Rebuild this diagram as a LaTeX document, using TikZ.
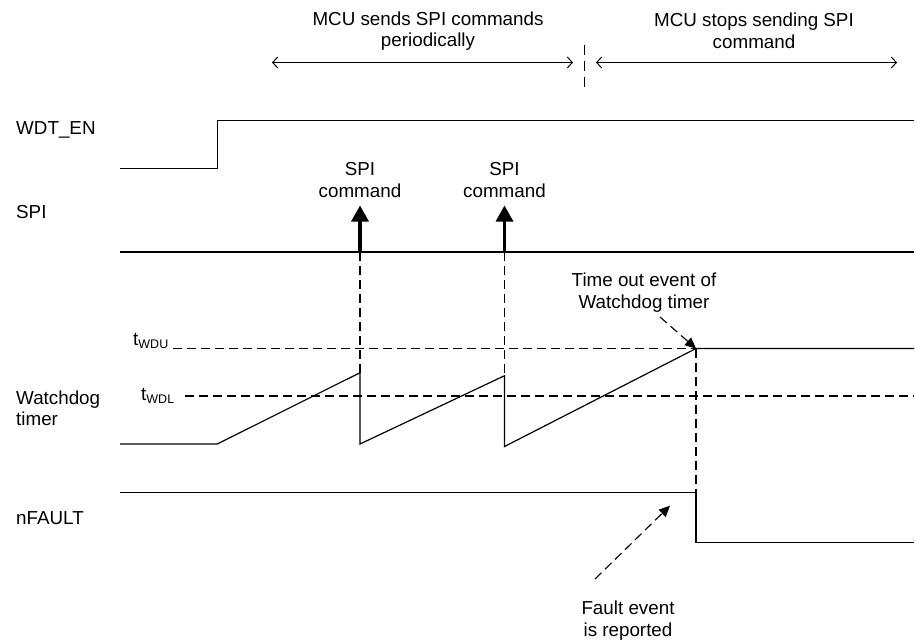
\documentclass[tikz,border=0pt]{standalone}
\usepackage{fontspec}
\setmainfont{Liberation Sans}
\usetikzlibrary{arrows.meta}
\begin{document}
\begin{tikzpicture}[x=1pt,y=-1pt,
  sig/.style={line width=1.2pt,line join=miter},
  guide/.style={line width=1.3pt,dash pattern=on 9pt off 5pt},
  span/.style={line width=1pt,{Straight Barb[length=5pt,width=11pt]}-{Straight Barb[length=5pt,width=11pt]}},
  spiarrow/.style={line width=3.2pt,-{Triangle[length=16pt,width=17pt]}},
  callout/.style={line width=1.1pt,dash pattern=on 9pt off 5pt,-{Triangle[length=11pt,width=10pt]}},
  lbl/.style={font=\fontsize{18.8}{21.5}\selectfont,inner sep=0pt},
  sublbl/.style={lbl,anchor=base west}]
\useasboundingbox (0,0) rectangle (915,640);
% ---------- key coordinates ----------
\coordinate (x1top) at (360,252);
\coordinate (x2top) at (504.5,252);
\coordinate (pk1) at (360,372.7);
\coordinate (pk2) at (504.5,375.7);
\coordinate (to) at (696,348.5);
\coordinate (nf) at (696,492.3);
% ---------- signal labels ----------
\node[lbl,anchor=base west] (lwdt) at (16,134.5) {WDT\_EN};
\node[lbl,anchor=base west] (lspi) at (16,218.5) {SPI};
\node[lbl,anchor=west,align=left] (lwd) at (16,408.5) {Watchdog\\timer};
\node[lbl,anchor=base west] (lnf) at (16,524.5) {nFAULT};
\node[sublbl] (twdu) at (133,345) {t\raisebox{-3.5pt}{\fontsize{12.5}{12.5}\selectfont WDU}};
\node[sublbl] (twdl) at (141,400) {t\raisebox{-3.5pt}{\fontsize{12.5}{12.5}\selectfont WDL}};
% ---------- top annotations ----------
\node[lbl,align=center] (phase1) at (428,31) {MCU sends SPI commands\\periodically};
\node[lbl,align=center] (phase2) at (754,31) {MCU stops sending SPI\\command};
\coordinate (a1l) at (272,62.5);
\coordinate (a1r) at (573,62.5);
\coordinate (a2l) at (596,62.5);
\coordinate (a2r) at (897,62.5);
\coordinate (sepT) at (584,45);
\coordinate (sepB) at (584,88);
\draw[span] (a1l) -- (a1r);
\draw[span] (a2l) -- (a2r);
\draw[line width=1pt,dash pattern=on 10pt off 6pt] (sepT) -- (sepB);
% ---------- WDT_EN ----------
\draw[sig] (120,168.5) -- (217.3,168.5) -- (217.3,120.5) -- (914,120.5);
% ---------- SPI ----------
\draw[sig] (120,252) -- (914,252);
\node[lbl,align=center] (cmd1) at (360,180) {SPI\\command};
\node[lbl,align=center] (cmd2) at (504.5,180) {SPI\\command};
\draw[spiarrow] (x1top) -- (360,205.5);
\draw[spiarrow] (x2top) -- (504.5,205.5);
% ---------- thresholds ----------
\draw[guide] (173,348.5) -- (to);
\draw[guide] (185,396) -- (914,396);
% ---------- Watchdog timer ----------
\draw[sig] (120,444) -- (217.3,444) -- (pk1) -- (360,444) -- (pk2) -- (504.5,446.5) -- (to) -- (914,348.5);
\draw[guide] (x1top) -- (pk1);
\draw[guide] (x2top) -- (pk2);
\draw[guide] (to) -- (nf);
% ---------- nFAULT ----------
\draw[sig] (120,492.3) -- (nf) -- (696,542.7) -- (914,542.7);
% ---------- callouts ----------
\node[lbl,align=center] (tonote) at (644,292.5) {Time out event of\\Watchdog timer};
\node[lbl,align=center] (fnote) at (628,620.5) {Fault event\\is reported};
\draw[callout] (660,317) -- (to);
\draw[callout] (595,579) -- (670,505.7);
\end{tikzpicture}
\end{document}
